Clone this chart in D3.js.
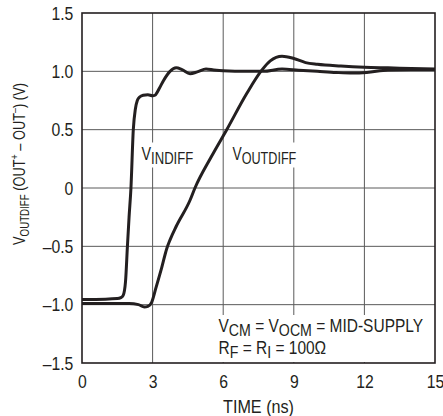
<!DOCTYPE html>
<html><head><meta charset="utf-8">
<script src="https://cdn.jsdelivr.net/npm/d3@7"></script>
<style>
body{margin:0;background:#fff;}
text{font-family:"Liberation Sans",Arial,sans-serif;fill:#231f20;}
</style></head>
<body><svg id="c" width="443" height="416"></svg>
<script>
const xTicks = [0, 3, 6, 9, 12, 15];
const yTicks = [1.5, 1.0, 0.5, 0, -0.5, -1.0, -1.5];
const yTickLabels = ["1.5", "1.0", "0.5", "0", "–0.5", "–1.0", "–1.5"];
const xTickLabels = ["0", "3", "6", "9", "12", "15"];

const vinTime = [0, 1.0, 1.5, 1.65, 1.75, 1.85, 1.93, 2.0, 2.08, 2.18, 2.27, 2.35, 2.45, 2.6, 2.8, 3.0, 3.1, 3.3, 3.46, 3.74, 4.0, 4.25, 4.59, 4.9, 5.27, 5.6, 6, 7, 7.7, 8.5, 9.2, 10, 10.8, 11.5, 12.1, 13, 14, 15];
const vinValue = [-0.955, -0.953, -0.948, -0.94, -0.92, -0.8, -0.5, -0.25, 0, 0.5, 0.68, 0.75, 0.78, 0.795, 0.8, 0.79, 0.795, 0.86, 0.92, 1.0, 1.03, 1.015, 0.98, 0.995, 1.02, 1.012, 1.005, 1.0, 1.0, 1.02, 1.01, 1.0, 0.99, 0.985, 0.99, 1.012, 1.015, 1.015];

const voutTime = [0, 1, 2, 2.4, 2.65, 2.8, 2.96, 3.15, 3.39, 3.6, 3.75, 4.0, 4.59, 4.8, 5.5, 6.15, 7.0, 7.64, 8.0, 8.5, 9.0, 9.5, 10, 11, 12, 13, 14, 15];
const voutValue = [-0.99, -0.99, -0.99, -1.0, -1.02, -1.015, -0.98, -0.85, -0.68, -0.52, -0.44, -0.33, -0.105, 0, 0.27, 0.5, 0.81, 1.01, 1.09, 1.13, 1.11, 1.075, 1.06, 1.045, 1.035, 1.03, 1.025, 1.02];

const svg = d3.select("#c");
const L = 82, R = 435, T = 13, B = 363;
const x = d3.scaleLinear().domain([0, 15]).range([L, R]);
const y = d3.scaleLinear().domain([-1.5, 1.5]).range([B, T]);
const FS = 17.5, SX = 0.9;

// grid
const g = svg.append("g");
g.selectAll(".gx").data(xTicks.slice(1, -1)).join("line")
  .attr("x1", d => x(d)).attr("x2", d => x(d)).attr("y1", T).attr("y2", B)
  .attr("stroke", "#5a5a5a").attr("stroke-width", 1);
g.selectAll(".gy").data(yTicks.slice(1, -1)).join("line")
  .attr("x1", L).attr("x2", R).attr("y1", d => y(d)).attr("y2", d => y(d))
  .attr("stroke", "#5a5a5a").attr("stroke-width", 1);

function addParts(t, parts, subFS) {
  parts.forEach(p => {
    const s = t.append("tspan").text(p.t);
    if (p.sub) s.attr("font-size", subFS || FS - 1.5).attr("dy", 4);
    if (p.back) s.attr("dy", -4);
    if (p.sup) s.attr("font-size", FS - 6).attr("dy", -7);
    if (p.unsup) s.attr("dy", 7);
  });
}
// text with white background, condensed to fit a target width
function bgText(tx, ty, lines, pad, lineGap, targetW) {
  const grp = svg.append("g");
  const rect = grp.append("rect").attr("fill", "#fff");
  const nodes = lines.map((parts, i) => {
    const t = grp.append("text").attr("x", 0).attr("y", i * lineGap).attr("font-size", FS);
    addParts(t, parts);
    return t.node().getBBox();
  });
  const sx = targetW / nodes[0].width;
  grp.attr("transform", `translate(${tx},${ty}) scale(${sx},1)`);
  const x0 = d3.min(nodes, b => b.x), x1 = d3.max(nodes, b => b.x + b.width);
  const y0 = d3.min(nodes, b => b.y), y1 = d3.max(nodes, b => b.y + b.height);
  rect.attr("x", x0 - pad / sx).attr("y", y0 - 1).attr("width", x1 - x0 + 2 * pad / sx).attr("height", y1 - y0 + 2);
  return grp;
}

bgText(141.5, 159.5, [[{t: "V"}, {t: "INDIFF", sub: true}]], 1, 0, 52);
bgText(232.5, 159.5, [[{t: "V"}, {t: "OUTDIFF", sub: true}]], 1, 0, 64);
bgText(218.5, 332, [
  [{t: "V"}, {t: "CM", sub: true}, {t: " = V", back: true}, {t: "OCM", sub: true}, {t: " = MID-SUPPLY", back: true}],
  [{t: "R"}, {t: "F", sub: true}, {t: " = R", back: true}, {t: "I", sub: true}, {t: " = 100Ω", back: true}]
], 3, 22, 205);

// curves
const line = d3.line().x(d => x(d[0])).y(d => y(d[1])).curve(d3.curveMonotoneX);
svg.append("path").datum(voutTime.map((t, i) => [t, voutValue[i]]))
  .attr("d", line).attr("fill", "none").attr("stroke", "#231f20").attr("stroke-width", 3);
svg.append("path").datum(vinTime.map((t, i) => [t, vinValue[i]]))
  .attr("d", line).attr("fill", "none").attr("stroke", "#231f20").attr("stroke-width", 3);

// frame
svg.append("rect").attr("x", L).attr("y", T).attr("width", R - L).attr("height", B - T)
  .attr("fill", "none").attr("stroke", "#231f20").attr("stroke-width", 1.6);

// axes tick labels
const xAxis = d3.axisBottom(x).tickValues(xTicks).tickFormat((d, i) => xTickLabels[i]).tickSize(0).tickPadding(0);
const xa = svg.append("g").attr("transform", `translate(0,${B})`).call(xAxis);
xa.select(".domain").remove();
xa.selectAll("text").attr("font-size", FS).attr("font-family", null).attr("dy", null)
  .attr("y", 0).attr("transform", `translate(0,25) scale(${SX},1)`).attr("fill", "#231f20");

const yAxis = d3.axisLeft(y).tickValues(yTicks).tickFormat((d, i) => yTickLabels[i]).tickSize(0).tickPadding(0);
const ya = svg.append("g").attr("transform", `translate(${L},0)`).call(yAxis);
ya.select(".domain").remove();
ya.selectAll("text").attr("font-size", FS).attr("font-family", null).attr("dy", null)
  .attr("x", 0).attr("y", 0).attr("transform", `translate(-8.7,6.3) scale(${SX},1)`).attr("fill", "#231f20");

// axis titles
const xt = svg.append("text").attr("text-anchor", "middle").attr("font-size", FS).text("TIME (ns)");
const xtw = xt.node().getBBox().width;
xt.attr("transform", `translate(${(L + R) / 2},413) scale(${71 / xtw},1)`);

const yl = svg.append("text").attr("text-anchor", "middle").attr("font-size", FS - 1);
addParts(yl, [{t: "V"}, {t: "OUTDIFF", sub: true}, {t: " (OUT", back: true}, {t: "+", sup: true},
  {t: " – OUT", unsup: true}, {t: "–", sup: true}, {t: ") (V)", unsup: true}], FS - 5);
const ylw = yl.node().getBBox().width;
yl.attr("transform", `translate(24.5,164) rotate(-90) scale(${162 / ylw},1)`);
</script></body></html>
